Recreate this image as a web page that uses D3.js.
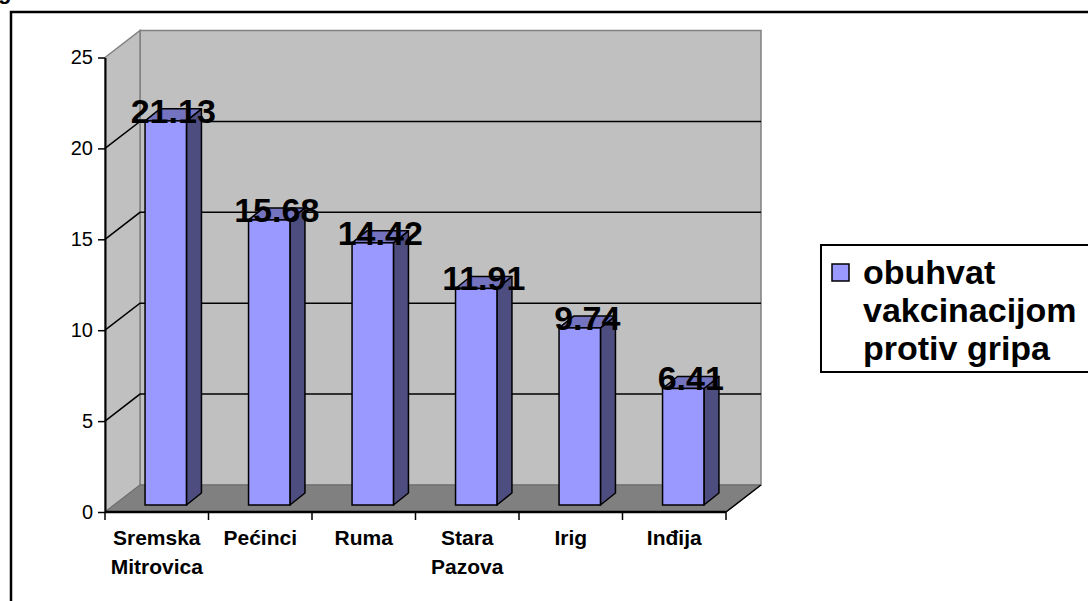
<!DOCTYPE html>
<html>
<head>
<meta charset="utf-8">
<script src="https://cdn.jsdelivr.net/npm/d3@7"></script>
<style>
body { margin: 0; background: #fff; }
text { font-family: Arial, 'Liberation Sans', sans-serif; }
</style>
</head>
<body>
<script>
var categories = ['Sremska Mitrovica', 'Pećinci', 'Ruma', 'Stara Pazova', 'Irig', 'Inđija']
var values = [21.13, 15.68, 14.42, 11.91, 9.74, 6.41]
var yTicks = [0, 5, 10, 15, 20, 25]
var legendLines = ['obuhvat', 'vakcinacijom', 'protiv gripa']

var width = 1088
var height = 601
var wallDx = 35
var wallDy = -27
var barOffX = 9
var barOffY = -7
var barDx = 15
var barDy = -12

var svg = d3.select('body').append('svg').attr('width', width).attr('height', height)

var x = d3.scaleBand().domain(categories).range([105, 726])
var y = d3.scaleLinear().domain([0, 25]).range([512, 57.5])

var x0 = x.range()[0]
var x1 = x.range()[1]
var yb = y(0)
var yt = y(25)

// fragment of the caption above the frame
svg.append('text').attr('x', -2).attr('y', -1).attr('font-size', 22).attr('font-weight', 'bold').text('g')

svg.append('path')
    .attr('d', 'M11,' + (height + 5) + 'V12H' + (width + 5))
    .attr('fill', 'none')
    .attr('stroke', '#000')
    .attr('stroke-width', 2.5)

function pts(arr) {
    return arr.map(function (p) { return p.join(',') }).join(' ')
}

// back wall
svg.append('polygon')
    .attr('points', pts([[x0 + wallDx, yt + wallDy], [x1 + wallDx, yt + wallDy], [x1 + wallDx, yb + wallDy], [x0 + wallDx, yb + wallDy]]))
    .attr('fill', '#c0c0c0')
    .attr('stroke', '#808080')
    .attr('stroke-width', 1.5)

// side wall
svg.append('polygon')
    .attr('points', pts([[x0, yt], [x0 + wallDx, yt + wallDy], [x0 + wallDx, yb + wallDy], [x0, yb]]))
    .attr('fill', '#c0c0c0')
    .attr('stroke', '#808080')
    .attr('stroke-width', 1.5)

// floor
svg.append('polygon')
    .attr('points', pts([[x0, yb], [x1, yb], [x1 + wallDx, yb + wallDy], [x0 + wallDx, yb + wallDy]]))
    .attr('fill', '#808080')
    .attr('stroke', '#6a6a6a')
    .attr('stroke-width', 1)

svg.append('line')
    .attr('x1', x1).attr('y1', yb)
    .attr('x2', x1 + wallDx).attr('y2', yb + wallDy)
    .attr('stroke', '#000').attr('stroke-width', 1.5)

var grid = svg.append('g').attr('class', 'grid')
grid.selectAll('polyline')
    .data(yTicks.filter(function (d) { return d > 0 && d < 25 }))
    .enter()
    .append('polyline')
    .attr('points', function (d) {
        return pts([[x0, y(d)], [x0 + wallDx, y(d) + wallDy], [x1 + wallDx, y(d) + wallDy]])
    })
    .attr('fill', 'none')
    .attr('stroke', '#000')
    .attr('stroke-width', 1.5)

var yAxis = svg.append('g')
    .attr('transform', 'translate(' + x0 + ',0)')
    .call(d3.axisLeft(y).tickValues(yTicks).tickSize(7).tickSizeOuter(0).tickPadding(5))
yAxis.select('.domain').attr('stroke-width', 2)
yAxis.selectAll('.tick line').attr('stroke-width', 1.5)
yAxis.selectAll('.tick text').attr('font-size', 20).attr('font-family', 'Arial, Liberation Sans, sans-serif').attr('fill', '#000')

svg.append('line')
    .attr('x1', x0).attr('y1', yb)
    .attr('x2', x1).attr('y2', yb)
    .attr('stroke', '#000').attr('stroke-width', 2.5)

svg.append('g')
    .selectAll('line')
    .data(categories.concat([null]))
    .enter()
    .append('line')
    .attr('x1', function (d) { return d ? x(d) : x1 })
    .attr('x2', function (d) { return d ? x(d) : x1 })
    .attr('y1', yb)
    .attr('y2', yb + 8)
    .attr('stroke', '#000')
    .attr('stroke-width', 1.5)

var catLabels = svg.append('g')
    .selectAll('text')
    .data(categories)
    .enter()
    .append('text')
    .attr('text-anchor', 'middle')
    .attr('font-size', 21)
    .attr('font-weight', 'bold')
    .attr('y', 545)
catLabels.selectAll('tspan')
    .data(function (d) { return d.split(' ').map(function (w) { return { w: w, c: d } }) })
    .enter()
    .append('tspan')
    .attr('x', function (d) { return x(d.c) + x.bandwidth() / 2 })
    .attr('dy', function (d, i) { return i ? 29 : 0 })
    .text(function (d) { return d.w })

var barW = x.bandwidth() * 0.4
var bars = svg.append('g')
    .selectAll('g')
    .data(values)
    .enter()
    .append('g')
    .attr('transform', function (d, i) {
        return 'translate(' + (x(categories[i]) + (x.bandwidth() - barW) / 2 + barOffX) + ',' + barOffY + ')'
    })

bars.append('polygon')
    .attr('points', function (d) {
        return pts([[barW, yb], [barW + barDx, yb + barDy], [barW + barDx, y(d) + barDy], [barW, y(d)]])
    })
    .attr('fill', '#4d4d80')
    .attr('stroke', '#000')
    .attr('stroke-width', 1.5)
    .attr('stroke-linejoin', 'round')

bars.append('polygon')
    .attr('points', function (d) {
        return pts([[0, y(d)], [barDx, y(d) + barDy], [barW + barDx, y(d) + barDy], [barW, y(d)]])
    })
    .attr('fill', '#7373bf')
    .attr('stroke', '#000')
    .attr('stroke-width', 1.5)
    .attr('stroke-linejoin', 'round')

bars.append('rect')
    .attr('x', 0)
    .attr('y', function (d) { return y(d) })
    .attr('width', barW)
    .attr('height', function (d) { return yb - y(d) })
    .attr('fill', '#9999ff')
    .attr('stroke', '#000')
    .attr('stroke-width', 1.5)

bars.append('text')
    .attr('x', (barW + barDx) / 2)
    .attr('y', function (d) { return y(d) + 2 })
    .attr('text-anchor', 'middle')
    .attr('font-size', 34)
    .attr('font-weight', 'bold')
    .text(function (d) { return d3.format('.2f')(d) })

var legend = svg.append('g')
legend.append('rect')
    .attr('x', 821).attr('y', 245)
    .attr('width', 300).attr('height', 127)
    .attr('fill', '#fff')
    .attr('stroke', '#000')
    .attr('stroke-width', 2)
legend.append('rect')
    .attr('x', 832).attr('y', 264)
    .attr('width', 17).attr('height', 17)
    .attr('fill', '#9999ff')
    .attr('stroke', '#000')
    .attr('stroke-width', 1.5)
legend.selectAll('text.item')
    .data(legendLines)
    .enter()
    .append('text')
    .attr('class', 'item')
    .attr('x', 863)
    .attr('y', function (d, i) { return 284 + i * 38 })
    .attr('font-size', 34)
    .attr('font-weight', 'bold')
    .text(function (d) { return d })
</script>
</body>
</html>
